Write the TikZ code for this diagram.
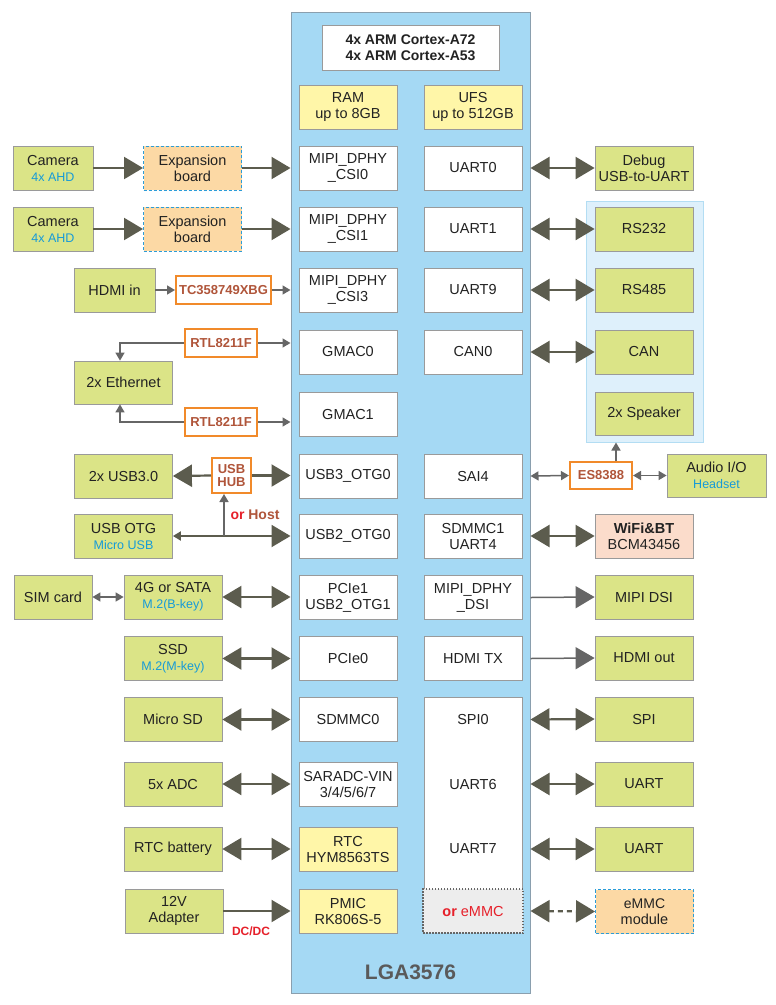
\documentclass[tikz,border=0pt]{standalone}
\usepackage{fontspec}
\setmainfont{Liberation Sans}
\usetikzlibrary{arrows.meta}

\definecolor{lgablue}{HTML}{A5D9F4}
\definecolor{lgaline}{HTML}{8A9FAE}
\definecolor{lgatext}{HTML}{5A5A5A}
\definecolor{boxline}{HTML}{9A9A9A}
\definecolor{extgreen}{HTML}{DBE487}
\definecolor{memyellow}{HTML}{FFF6A8}
\definecolor{exporange}{HTML}{FCD9A5}
\definecolor{dashblue}{HTML}{2B9CD8}
\definecolor{chiporange}{HTML}{F18A2A}
\definecolor{chipbrown}{HTML}{B0553A}
\definecolor{grpfill}{HTML}{DEF0FB}
\definecolor{grpline}{HTML}{B3DDF3}
\definecolor{wifipink}{HTML}{FBDCCB}
\definecolor{subblue}{HTML}{159AD8}
\definecolor{redtxt}{HTML}{E6202A}
\definecolor{emmcgrey}{HTML}{EDEDED}
\definecolor{arrgrey}{HTML}{5C5C4E}
\definecolor{thingrey}{HTML}{666666}
\definecolor{txt}{HTML}{222222}

\newcommand\subtx[1]{{\fontsize{12.5}{14}\selectfont\color{subblue}#1}}

\tikzset{
  bigtip/.tip={Triangle[length=19pt,width=22pt]},
  smtip/.tip={Triangle[length=8pt,width=9pt]},
  box/.style={draw=boxline, line width=0.8pt, minimum width=98pt, minimum height=44pt,
    align=center, inner sep=1pt, text=txt, font=\fontsize{14.5}{16}\selectfont},
  soc/.style={box, fill=white},
  mem/.style={box, fill=memyellow},
  ext/.style={box, fill=extgreen},
  expbox/.style={box, fill=exporange, draw=dashblue, dash pattern=on 3pt off 2pt, line width=1pt},
  chip/.style={draw=chiporange, line width=2pt, fill=white, inner sep=0pt, align=center,
    text=chipbrown, font=\fontsize{13}{14}\selectfont\bfseries, minimum height=28pt},
  plain/.style={inner sep=0pt, text=txt, font=\fontsize{14.5}{16}\selectfont},
  bigone/.style={draw=arrgrey, line width=2.2pt, -bigtip},
  bigtwo/.style={draw=arrgrey, line width=2.2pt, bigtip-bigtip},
  thinarr/.style={draw=thingrey, line width=1.5pt, -smtip},
  thintwo/.style={draw=thingrey, line width=1.5pt, smtip-smtip},
  thinbig/.style={draw=thingrey, line width=1.5pt, -bigtip},
}

\begin{document}
\begin{tikzpicture}[x=1pt,y=-1pt]
\useasboundingbox[fill=white] (0,0) rectangle (776,1005);

% the module
\node[draw=lgaline, fill=lgablue, line width=1pt, minimum width=239pt, minimum height=981pt] (lga) at (410.5,502.5) {};
\node[font=\fontsize{21}{22}\selectfont\bfseries, text=lgatext] (lgalbl) at (410.5,972) {LGA3576};
\node[soc, minimum width=177pt, minimum height=45pt, font=\fontsize{14}{16}\selectfont\bfseries] (cpu) at (410.5,47.5) {4x ARM Cortex-A72\\4x ARM Cortex-A53};
\node[mem] (ram) at (348,107) {RAM\\up to 8GB};
\node[mem] (ufs) at (473,107) {UFS\\up to 512GB};

% left column
\node[soc] (csi0) at (348,168) {MIPI\_DPHY\\\_CSI0};
\node[soc] (csi1) at (348,229) {MIPI\_DPHY\\\_CSI1};
\node[soc] (csi3) at (348,290) {MIPI\_DPHY\\\_CSI3};
\node[soc] (gmac0) at (348,352) {GMAC0};
\node[soc] (gmac1) at (348,414) {GMAC1};
\node[soc] (usb3otg) at (348,476) {USB3\_OTG0};
\node[soc] (usb2otg) at (348,536) {USB2\_OTG0};
\node[soc] (pcie1) at (348,597.5) {PCIe1\\USB2\_OTG1};
\node[soc] (pcie0) at (348,658.5) {PCIe0};
\node[soc] (sdmmc0) at (348,719.5) {SDMMC0};
\node[soc] (saradc) at (348,784) {SARADC-VIN\\3/4/5/6/7};
\node[mem] (rtc) at (348,849) {RTC\\HYM8563TS};
\node[mem] (pmic) at (348,911) {PMIC\\RK806S-5};

% right column
\node[soc] (uart0) at (473,168) {UART0};
\node[soc] (uart1) at (473,229) {UART1};
\node[soc] (uart9) at (473,290) {UART9};
\node[soc] (can0) at (473,352) {CAN0};
\node[soc] (sai4) at (473,476) {SAI4};
\node[soc] (sdmmc1) at (473,536) {SDMMC1\\UART4};
\node[soc] (dsi) at (473,597.5) {MIPI\_DPHY\\\_DSI};
\node[soc] (hdmitx) at (473,658.5) {HDMI TX};
\node[soc, minimum height=192pt] (uartcol) at (473,793) {};
\node[plain] (spi0) at (473,719.5) {SPI0};
\node[plain] (uart6) at (473,784) {UART6};
\node[plain] (uart7) at (473,849) {UART7};
\node[soc, fill=emmcgrey, draw=thingrey, line width=1.2pt, dash pattern=on 1.5pt off 1.5pt, minimum width=100pt] (oremmc) at (473,911) {\textcolor{redtxt}{\textbf{or} eMMC}};

% left side
\node[ext, minimum width=80pt] (cam1) at (53,168) {Camera\\\subtx{4x AHD}};
\node[ext, minimum width=80pt] (cam2) at (53,229) {Camera\\\subtx{4x AHD}};
\node[expbox] (exp1) at (192.5,168) {Expansion\\board};
\node[expbox] (exp2) at (192.5,229) {Expansion\\board};
\node[ext, minimum width=81pt] (hdmiin) at (114.5,290) {HDMI in};
\node[chip, minimum width=95pt] (tc) at (223.5,290) {TC358749XBG};
\node[chip, minimum width=72pt] (rtl1) at (221,343) {RTL8211F};
\node[chip, minimum width=72pt] (rtl2) at (221,422) {RTL8211F};
\node[ext, minimum height=43pt] (eth) at (123.5,382.5) {2x Ethernet};
\node[ext] (usb3) at (123.5,476) {2x USB3.0};
\node[chip, minimum width=39pt, minimum height=35pt, font=\fontsize{13}{13.5}\selectfont\bfseries] (hub) at (231.5,475.5) {USB\\HUB};
\node[ext] (otg) at (123.5,536) {USB OTG\\\subtx{Micro USB}};
\node[font=\fontsize{14}{15}\selectfont\bfseries, inner sep=0pt] (orhost) at (255,515) {\textcolor{redtxt}{or} \textcolor{chipbrown}{Host}};
\node[ext, minimum width=78pt] (sim) at (53,597) {SIM card};
\node[ext] (m2b) at (173,597) {4G or SATA\\\subtx{M.2(B-key)}};
\node[ext] (ssd) at (173,658.5) {SSD\\\subtx{M.2(M-key)}};
\node[ext] (microsd) at (173,719.5) {Micro SD};
\node[ext] (adc) at (173,784) {5x ADC};
\node[ext] (rtcbat) at (173,849) {RTC battery};
\node[ext] (adapter) at (174,911) {12V\\Adapter};
\node[font=\fontsize{12}{13}\selectfont\bfseries, text=redtxt, inner sep=0pt] (dcdc) at (251,931) {DC/DC};

% right side
\node[draw=grpline, fill=grpfill, line width=1pt, minimum width=117pt, minimum height=241pt] (grp) at (644.5,321.5) {};
\node[ext] (debug) at (644,168) {Debug\\USB-to-UART};
\node[ext] (rs232) at (644,229) {RS232};
\node[ext] (rs485) at (644,290) {RS485};
\node[ext] (can) at (644,352) {CAN};
\node[ext, minimum height=43pt] (spk) at (644,413.5) {2x Speaker};
\node[chip, minimum width=62pt, minimum height=27pt] (codec) at (601,475.5) {ES8388};
\node[ext, minimum width=99pt, minimum height=43pt] (audio) at (716.5,475.5) {Audio I/O\\\subtx{Headset}};
\node[ext, fill=wifipink] (wifi) at (644,536) {\textbf{WiFi\&BT}\\BCM43456};
\node[ext] (mipidsi) at (644,597) {MIPI DSI};
\node[ext] (hdmiout) at (644,658) {HDMI out};
\node[ext] (spi) at (644,719) {SPI};
\node[ext] (uarta) at (644,784) {UART};
\node[ext] (uartb) at (644,849) {UART};
\node[expbox] (emmcmod) at (644.5,911.5) {\fontsize{14}{13}\selectfont eMMC\\module};

% connectors, left
\draw[bigone] (cam1.east) -- (exp1.west);
\draw[bigone] (exp1.east) -- (exp1.east -| lga.west);
\draw[bigone] (cam2.east) -- (exp2.west);
\draw[bigone] (exp2.east) -- (exp2.east -| lga.west);
\draw[thinarr] (hdmiin.east) -- (tc.west);
\draw[thinarr] (tc.east) -- (tc.east -| lga.west);
\draw[thinarr] (rtl1.east) -- (rtl1.east -| lga.west);
\draw[thinarr] (rtl1.west) -| ([xshift=-3.5pt]eth.north);
\draw[thinarr] (rtl2.east) -- (rtl2.east -| lga.west);
\draw[thinarr] (rtl2.west) -| ([xshift=-3.5pt]eth.south);
\draw[bigone] (hub.west) -- (usb3.east);
\draw[bigone] (hub.east) -- (hub.east -| lga.west);
\draw[draw=arrgrey, line width=2pt, smtip-bigtip] (otg.east) -- (otg.east -| lga.west);
\coordinate (tee) at (224,536);
\draw[thinarr] (tee) -- (tee |- hub.south);
\draw[thintwo] (sim.east) -- (m2b.west);
\draw[bigtwo] (m2b.east) -- (m2b.east -| lga.west);
\draw[bigtwo] (ssd.east) -- (ssd.east -| lga.west);
\draw[bigtwo] (microsd.east) -- (microsd.east -| lga.west);
\draw[bigtwo] (adc.east) -- (adc.east -| lga.west);
\draw[bigtwo] (rtcbat.east) -- (rtcbat.east -| lga.west);
\draw[bigone] (adapter.east) -- (adapter.east -| lga.west);

% connectors, right
\draw[bigtwo] (uart0.east -| lga.east) -- (debug.west);
\draw[bigtwo] (uart1.east -| lga.east) -- (rs232.west);
\draw[bigtwo] (uart9.east -| lga.east) -- (rs485.west);
\draw[bigtwo] (can0.east -| lga.east) -- (can.west);
\draw[thintwo] (sai4.east -| lga.east) -- (codec.west);
\draw[thintwo] (codec.east) -- (audio.west);
\draw[thinarr] ([xshift=15pt]codec.north) -- ([xshift=15pt]codec.north |- grp.south);
\draw[bigtwo] (sdmmc1.east -| lga.east) -- (wifi.west);
\draw[thinbig] (dsi.east -| lga.east) -- (mipidsi.west);
\draw[thinbig] (hdmitx.east -| lga.east) -- (hdmiout.west);
\draw[bigtwo] (spi0.east -| lga.east) -- (spi.west);
\draw[bigtwo] (uart6.east -| lga.east) -- (uarta.west);
\draw[bigtwo] (uart7.east -| lga.east) -- (uartb.west);
\draw[bigtwo, dash pattern=on 5pt off 4pt] (oremmc.east -| lga.east) -- (emmcmod.west);
\end{tikzpicture}
\end{document}
